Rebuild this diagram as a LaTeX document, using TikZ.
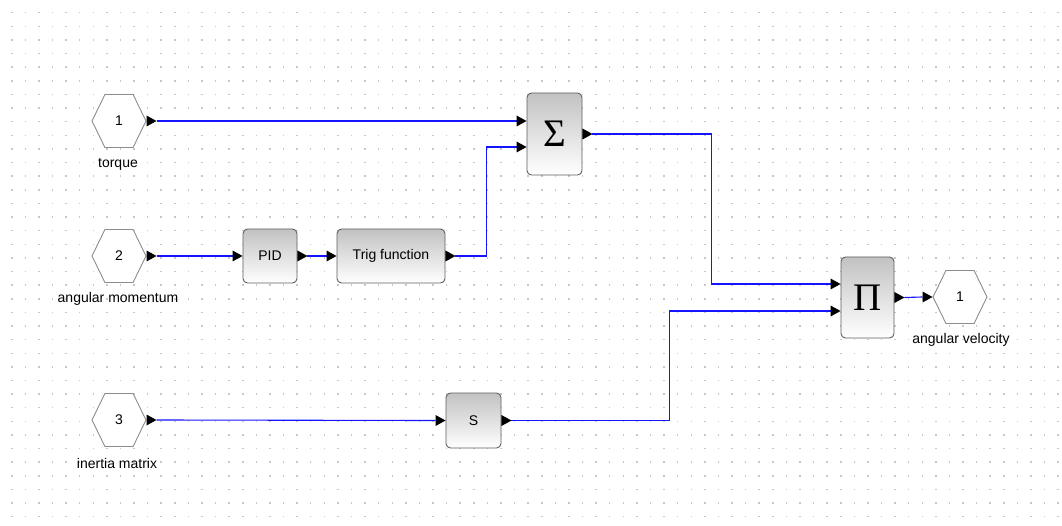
\documentclass[tikz,border=0pt]{standalone}
\usepackage{fontspec}
\setmainfont{Liberation Sans}
\newfontfamily\bigserif{Liberation Serif}
\usetikzlibrary{shapes.symbols,calc}
\definecolor{wireblue}{RGB}{20,20,255}
\definecolor{dotc}{RGB}{200,200,200}
\definecolor{blockborder}{RGB}{95,95,95}
\definecolor{hexborder}{RGB}{140,140,140}
\tikzset{
  wire/.style={draw=wireblue, line width=1.1pt},
  blockbox/.style={rectangle, rounded corners=4.5pt, draw=blockborder, line width=0.9pt,
    top color=black!24, bottom color=white, inner sep=0pt, font=\fontsize{14}{16}\selectfont},
  hexnode/.style={signal, signal to=east and west, signal pointer angle=128, draw=hexborder,
    line width=0.9pt, fill=white, minimum width=54pt, minimum height=53pt, inner sep=0pt,
    font=\fontsize{14}{16}\selectfont},
  lbl/.style={font=\fontsize{14}{16}\selectfont, inner sep=0pt},
  port/.pic={\fill[black] (0,-5.5) -- (10,0) -- (0,5.5) -- cycle;}
}
\begin{document}
\begin{tikzpicture}[x=1pt,y=-1pt]
\useasboundingbox (0,0) rectangle (1062,526);
\fill[white] (0,0) rectangle (1062,526);
% dot grid
\foreach \i in {0,...,77}{
  \foreach \j in {0,...,37}{
    \fill[dotc] ({11+\i*13.59},{12+\j*13.62}) rectangle ++(1.5,1.5);
  }
}
% hexagon ports
\node[hexnode] (in1) at (119,121) {1};
\node[hexnode] (in2) at (119,256) {2};
\node[hexnode] (in3) at (119,420) {3};
\node[hexnode] (out1) at (960,297) {1};
\node[lbl] (l1) at (118,164) {torque};
\node[lbl] (l2) at (118,299) {angular momentum};
\node[lbl] (l3) at (117,463) {inertia matrix};
\node[lbl] (l4) at (961,340) {angular velocity};
% blocks
\node[blockbox, minimum width=55pt, minimum height=82pt] (sum) at (554.5,134) {\bigserif\fontsize{39}{39}\selectfont Σ};
\node[blockbox, minimum width=54pt, minimum height=54pt] (pid) at (270,256) {PID};
\node[blockbox, minimum width=108pt, minimum height=54pt] (trig) at (391,256) {Trig function};
\node[blockbox, minimum width=53pt, minimum height=81pt] (prod) at (867.5,297.5) {\bigserif\fontsize{39}{39}\selectfont Π};
\node[blockbox, minimum width=55pt, minimum height=55pt] (sblk) at (473.5,420.5) {S};
% port coordinates
\coordinate (in1o) at ([xshift=10pt]in1.east);
\coordinate (in2o) at ([xshift=10pt]in2.east);
\coordinate (in3o) at ([xshift=10pt]in3.east);
\coordinate (out1i) at ([xshift=-10pt]out1.west);
\coordinate (sumi1) at ($(sum.west)+(-10,-13)$);
\coordinate (sumi2) at ($(sum.west)+(-10,13)$);
\coordinate (sumo) at ([xshift=10pt]sum.east);
\coordinate (pidi) at ([xshift=-10pt]pid.west);
\coordinate (pido) at ([xshift=10pt]pid.east);
\coordinate (trigi) at ([xshift=-10pt]trig.west);
\coordinate (trigo) at ([xshift=10pt]trig.east);
\coordinate (prodi1) at ($(prod.west)+(-10,-13.5)$);
\coordinate (prodi2) at ($(prod.west)+(-10,13.5)$);
\coordinate (prodo) at ([xshift=10pt]prod.east);
\coordinate (si) at ([xshift=-10pt]sblk.west);
\coordinate (so) at ([xshift=10pt]sblk.east);
% wires
\draw[wire] (in1o) -- (sumi1);
\draw[wire] (in2o) -- (pidi);
\draw[wire] (pido) -- (trigi);
\draw[wire] (trigo) -- ++(31,0) |- (sumi2);
\draw[wire] (sumo) -- ++(119,0) |- (prodi1);
\draw[wire] (in3o) -- (si);
\draw[wire] (so) -- ++(158,0) |- (prodi2);
\draw[wire] (prodo) -- (out1i);
% port triangles
\pic at (in1.east) {port};
\pic at (in2.east) {port};
\pic at (in3.east) {port};
\pic at (out1i) {port};
\pic at (sumi1) {port};
\pic at (sumi2) {port};
\pic at (sum.east) {port};
\pic at (pidi) {port};
\pic at (pid.east) {port};
\pic at (trigi) {port};
\pic at (trig.east) {port};
\pic at (prodi1) {port};
\pic at (prodi2) {port};
\pic at (prod.east) {port};
\pic at (si) {port};
\pic at (sblk.east) {port};
\end{tikzpicture}
\end{document}
